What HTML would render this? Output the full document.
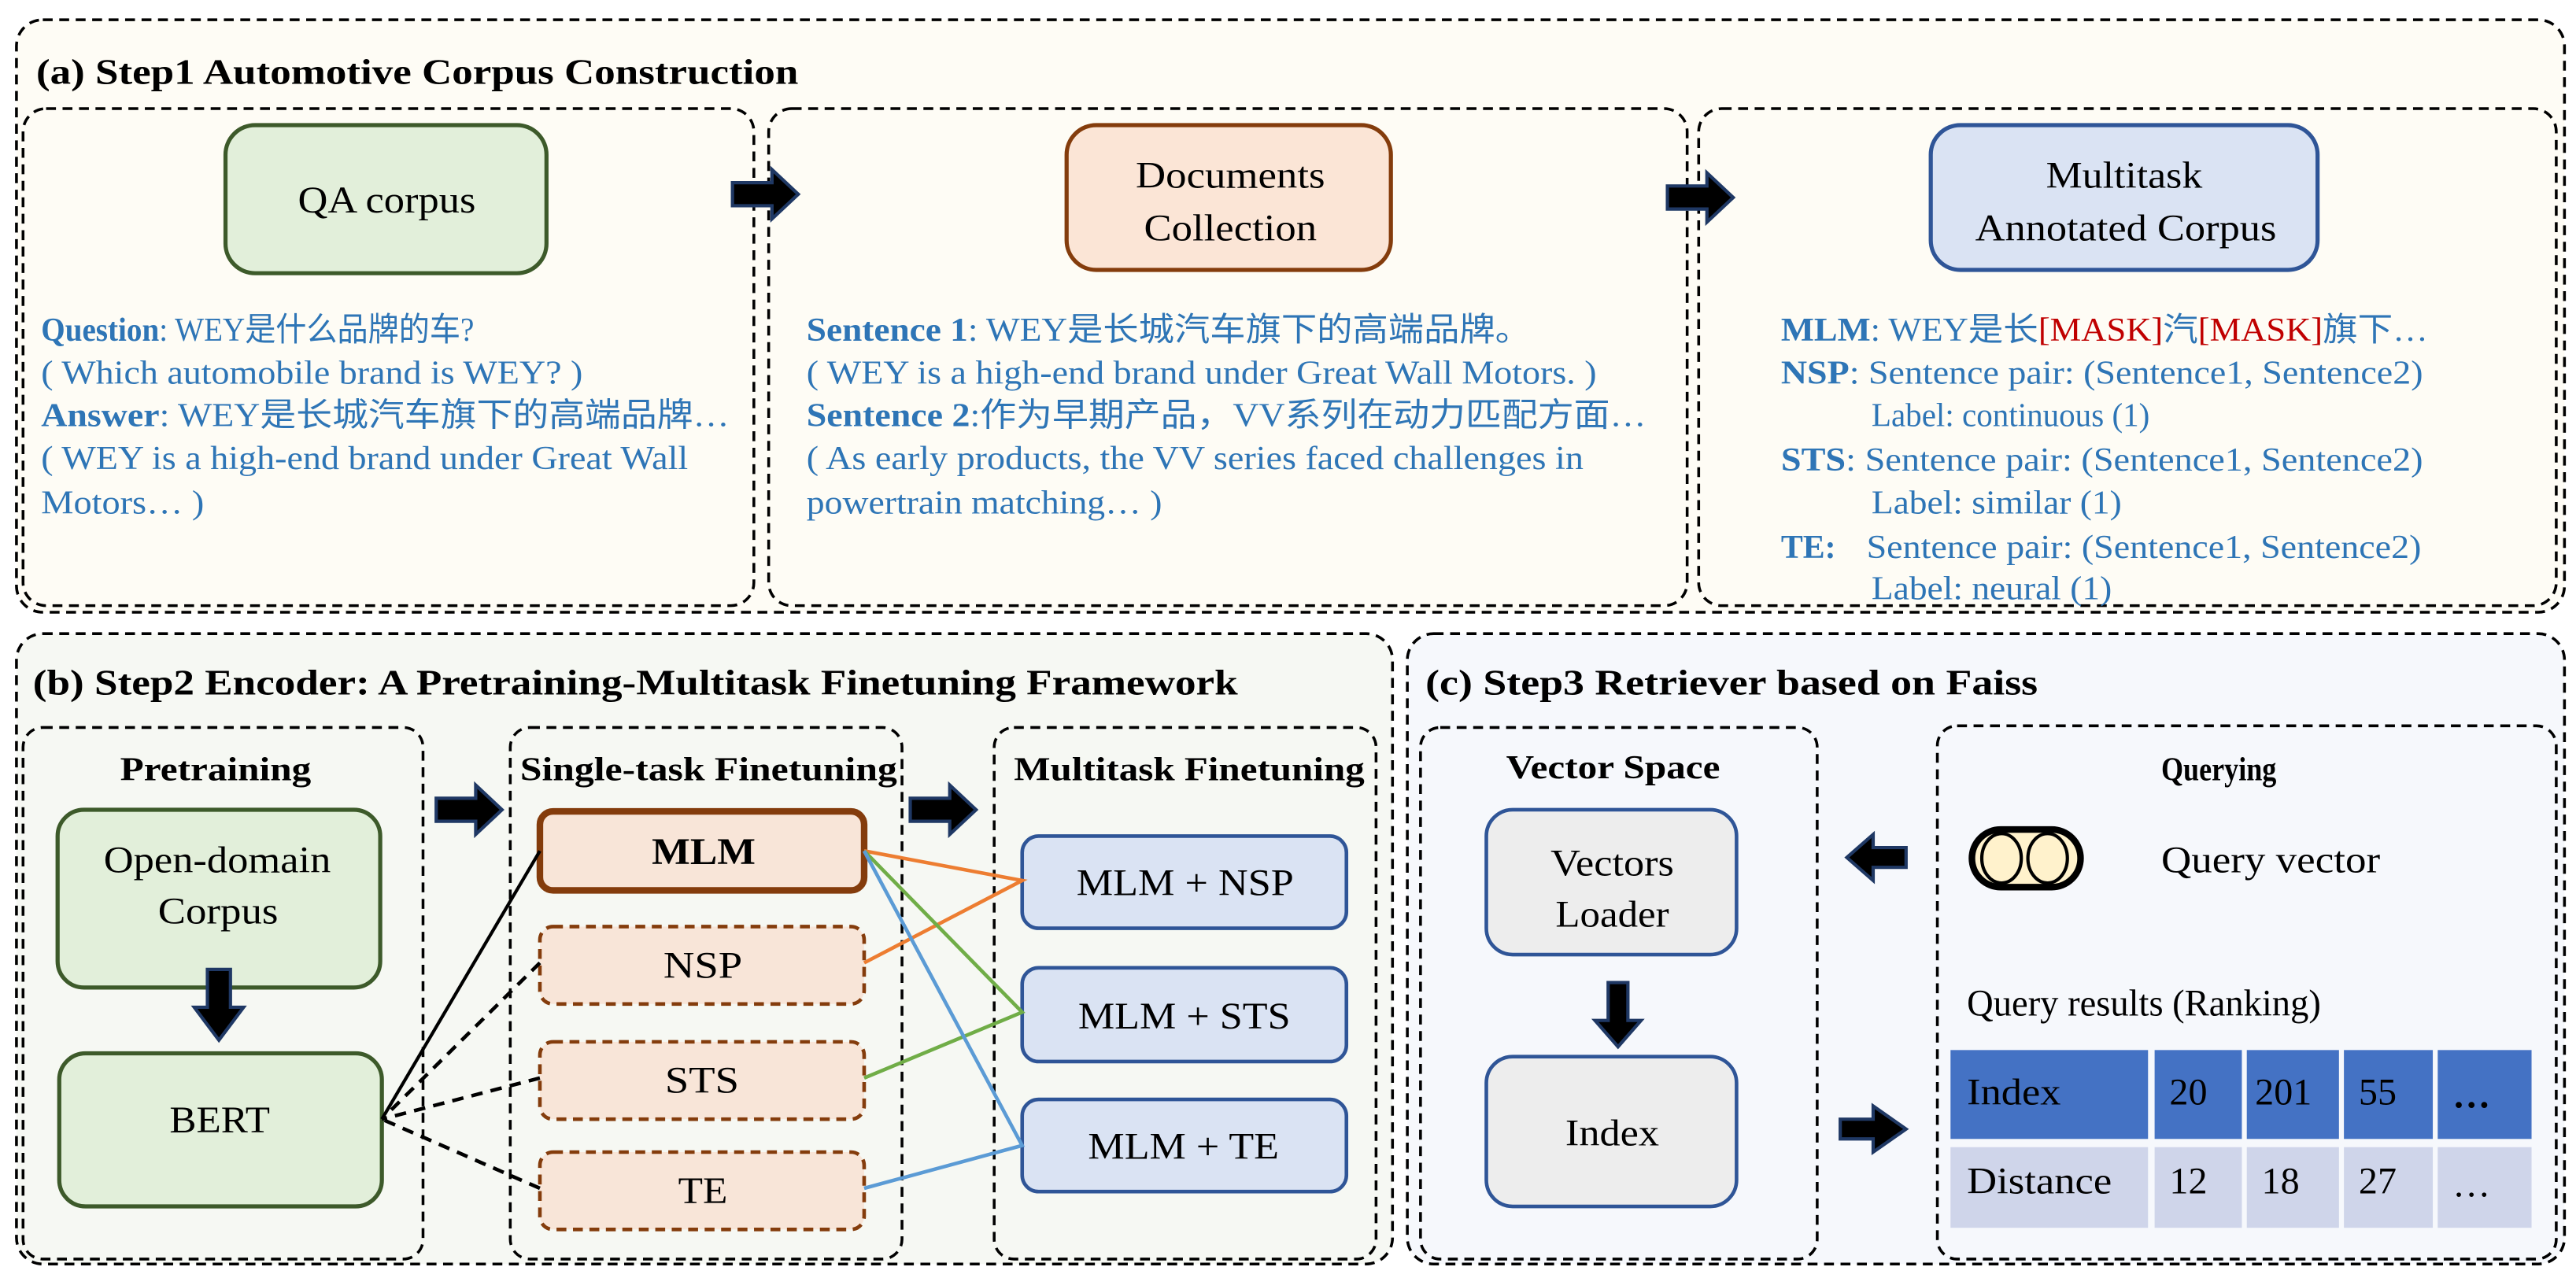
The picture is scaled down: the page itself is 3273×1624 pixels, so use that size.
<!DOCTYPE html>
<html><head><meta charset="utf-8"><style>
html,body{margin:0;padding:0;background:#fff;}
svg{display:block;}
svg text, svg tspan{font-family:"Liberation Serif",serif;}
</style></head><body>
<svg width="3273" height="1624" viewBox="0 0 1565 776.5" preserveAspectRatio="none" xmlns="http://www.w3.org/2000/svg">
<defs>
<g id="ar"><path d="M0,-7 L24,-7 L24,-15 L40,0 L24,15 L24,7 L0,7 Z" fill="#000" stroke="#1f3864" stroke-width="2"/></g>
</defs>
<g fill="none" stroke="#000" stroke-width="1.7" stroke-dasharray="6 4">
<rect x="10" y="12" width="1548" height="360" rx="16" fill="#fefcf5"/>
<rect x="14" y="66" width="444" height="302" rx="14"/>
<rect x="467" y="66" width="558" height="302" rx="14"/>
<rect x="1032" y="66" width="521" height="302" rx="14"/>
<rect x="10" y="385" width="836" height="383" rx="16" fill="#f6f8f3"/>
<rect x="14" y="442" width="243" height="323" rx="12"/>
<rect x="310" y="442" width="238" height="323" rx="12"/>
<rect x="604" y="442" width="232" height="323" rx="12"/>
<rect x="855" y="385" width="703" height="383" rx="16" fill="#f6f8fc"/>
<rect x="863" y="442" width="241" height="323" rx="12"/>
<rect x="1177" y="441" width="376" height="324" rx="12"/>
</g>
<g font-weight="bold" font-size="22" fill="#000">
<text x="22" y="51" textLength="463" lengthAdjust="spacingAndGlyphs">(a) Step1 Automotive Corpus Construction</text>
<text x="20" y="422" textLength="732" lengthAdjust="spacingAndGlyphs">(b) Step2 Encoder: A Pretraining-Multitask Finetuning Framework</text>
<text x="866" y="422" textLength="372" lengthAdjust="spacingAndGlyphs">(c) Step3 Retriever based on Faiss</text>
<g font-size="20">
<text x="73" y="474" textLength="116" lengthAdjust="spacingAndGlyphs">Pretraining</text>
<text x="316" y="474" textLength="229" lengthAdjust="spacingAndGlyphs">Single-task Finetuning</text>
<text x="616" y="474" textLength="213" lengthAdjust="spacingAndGlyphs">Multitask Finetuning</text>
<text x="915" y="473" textLength="130" lengthAdjust="spacingAndGlyphs">Vector Space</text>
<text x="1313" y="474" textLength="70" lengthAdjust="spacingAndGlyphs">Querying</text>
</g>
</g>
<rect x="137" y="76" width="195" height="90" rx="18" fill="#e2efda" stroke="#3d5a2a" stroke-width="2.5"/>
<rect x="648" y="76" width="197" height="88" rx="18" fill="#fbe5d6" stroke="#843c0c" stroke-width="2.5"/>
<rect x="1173" y="76" width="235" height="88" rx="18" fill="#dae3f3" stroke="#2f5597" stroke-width="2.5"/>
<g font-size="23" fill="#000">
<text x="181" y="129" textLength="108" lengthAdjust="spacingAndGlyphs">QA corpus</text>
<text x="690" y="114" textLength="115" lengthAdjust="spacingAndGlyphs">Documents</text>
<text x="695" y="146" textLength="105" lengthAdjust="spacingAndGlyphs">Collection</text>
<text x="1243" y="114" textLength="95" lengthAdjust="spacingAndGlyphs">Multitask</text>
<text x="1200" y="146" textLength="183" lengthAdjust="spacingAndGlyphs">Annotated Corpus</text>
</g>
<use href="#ar" x="445" y="118"/>
<use href="#ar" x="1013" y="120"/>
<g font-size="20" fill="#2e75b6">
<text x="25" y="207" textLength="263" lengthAdjust="spacingAndGlyphs"><tspan font-weight="bold">Question</tspan>: WEY是什么品牌的车?</text>
<text x="25" y="233" textLength="329" lengthAdjust="spacingAndGlyphs">( Which automobile brand is WEY? )</text>
<text x="25" y="259" textLength="418" lengthAdjust="spacingAndGlyphs"><tspan font-weight="bold">Answer</tspan>: WEY是长城汽车旗下的高端品牌…</text>
<text x="25" y="285" textLength="393" lengthAdjust="spacingAndGlyphs">( WEY is a high-end brand under Great Wall</text>
<text x="25" y="312" textLength="99" lengthAdjust="spacingAndGlyphs">Motors… )</text>
<text x="490" y="207" textLength="440" lengthAdjust="spacingAndGlyphs"><tspan font-weight="bold">Sentence 1</tspan>: WEY是长城汽车旗下的高端品牌。</text>
<text x="490" y="233" textLength="480" lengthAdjust="spacingAndGlyphs">( WEY is a high-end brand under Great Wall Motors. )</text>
<text x="490" y="259" textLength="510" lengthAdjust="spacingAndGlyphs"><tspan font-weight="bold">Sentence 2</tspan>:作为早期产品，VV系列在动力匹配方面…</text>
<text x="490" y="285" textLength="472" lengthAdjust="spacingAndGlyphs">( As early products, the VV series faced challenges in</text>
<text x="490" y="312" textLength="216" lengthAdjust="spacingAndGlyphs">powertrain matching… )</text>
<text x="1082" y="207" textLength="393" lengthAdjust="spacingAndGlyphs"><tspan font-weight="bold">MLM</tspan>: WEY是长<tspan fill="#c00000">[MASK]</tspan>汽<tspan fill="#c00000">[MASK]</tspan>旗下…</text>
<text x="1082" y="233" textLength="390" lengthAdjust="spacingAndGlyphs"><tspan font-weight="bold">NSP</tspan>: Sentence pair: (Sentence1, Sentence2)</text>
<text x="1137" y="259" textLength="169" lengthAdjust="spacingAndGlyphs">Label: continuous (1)</text>
<text x="1082" y="286" textLength="390" lengthAdjust="spacingAndGlyphs"><tspan font-weight="bold">STS</tspan>: Sentence pair: (Sentence1, Sentence2)</text>
<text x="1137" y="312" textLength="152" lengthAdjust="spacingAndGlyphs">Label: similar (1)</text>
<text x="1082" y="339" font-weight="bold">TE:</text>
<text x="1134" y="339" textLength="337" lengthAdjust="spacingAndGlyphs">Sentence pair: (Sentence1, Sentence2)</text>
<text x="1137" y="364" textLength="146" lengthAdjust="spacingAndGlyphs">Label: neural (1)</text>
</g>
<rect x="35" y="492" width="196" height="108" rx="16" fill="#e2efda" stroke="#3d5a2a" stroke-width="2.5"/>
<rect x="36" y="640" width="196" height="93" rx="16" fill="#e2efda" stroke="#3d5a2a" stroke-width="2.5"/>
<path d="M126,589 L140,589 L140,612 L148,612 L133,632 L118,612 L126,612 Z" fill="#000" stroke="#1f3864" stroke-width="2"/>
<rect x="328" y="493" width="197" height="48" rx="8" fill="#f8e5d8" stroke="#843c0c" stroke-width="4"/>
<g fill="#f8e5d8" stroke="#843c0c" stroke-width="2.2" stroke-dasharray="6 4">
<rect x="328" y="563" width="197" height="47" rx="8"/>
<rect x="328" y="633" width="197" height="47" rx="8"/>
<rect x="328" y="700" width="197" height="47" rx="8"/>
</g>
<g fill="#dae3f3" stroke="#2f5597" stroke-width="2.2">
<rect x="621" y="508" width="197" height="56" rx="10"/>
<rect x="621" y="588" width="197" height="57" rx="10"/>
<rect x="621" y="668" width="197" height="56" rx="10"/>
</g>
<use href="#ar" x="265" y="492"/>
<use href="#ar" x="553" y="492"/>
<line x1="328" y1="517" x2="232" y2="680" stroke="#000" stroke-width="2"/>
<g stroke="#000" stroke-width="2.2" stroke-dasharray="7 5">
<line x1="328" y1="585" x2="232" y2="680"/>
<line x1="328" y1="655" x2="232" y2="680"/>
<line x1="328" y1="722" x2="232" y2="680"/>
</g>
<g stroke-width="2.2" fill="none">
<polyline points="525,517 621,535 525,585" stroke="#ed7d31"/>
<polyline points="525,517 621,615 525,655" stroke="#70ad47"/>
<polyline points="525,517 621,696 525,722" stroke="#5b9bd5"/>
</g>
<g font-size="23" fill="#000">
<text x="63" y="530" textLength="138" lengthAdjust="spacingAndGlyphs">Open-domain</text>
<text x="96" y="561" textLength="73" lengthAdjust="spacingAndGlyphs">Corpus</text>
<text x="103" y="688" textLength="61" lengthAdjust="spacingAndGlyphs">BERT</text>
<text x="396" y="525" font-weight="bold" textLength="63" lengthAdjust="spacingAndGlyphs">MLM</text>
<text x="403" y="594" textLength="48" lengthAdjust="spacingAndGlyphs">NSP</text>
<text x="404" y="664" textLength="45" lengthAdjust="spacingAndGlyphs">STS</text>
<text x="412" y="731" textLength="30" lengthAdjust="spacingAndGlyphs">TE</text>
<text x="654" y="544" textLength="132" lengthAdjust="spacingAndGlyphs">MLM + NSP</text>
<text x="655" y="625" textLength="129" lengthAdjust="spacingAndGlyphs">MLM + STS</text>
<text x="661" y="704" textLength="116" lengthAdjust="spacingAndGlyphs">MLM + TE</text>
</g>
<rect x="903" y="492" width="152" height="88" rx="16" fill="#ededed" stroke="#2f5597" stroke-width="2.2"/>
<rect x="903" y="642" width="152" height="91" rx="16" fill="#ededed" stroke="#2f5597" stroke-width="2.2"/>
<path d="M977,597 L989,597 L989,620 L997,620 L983,636 L969,620 L977,620 Z" fill="#000" stroke="#1f3864" stroke-width="2"/>
<path d="M1158,515 L1138,515 L1138,507 L1122,521 L1138,535 L1138,527 L1158,527 Z" fill="#000" stroke="#1f3864" stroke-width="2"/>
<path d="M1118,680 L1138,680 L1138,672 L1158,686 L1138,700 L1138,692 L1118,692 Z" fill="#000" stroke="#1f3864" stroke-width="2"/>
<rect x="1198" y="504" width="66" height="35" rx="17.5" fill="#fff2cc" stroke="#000" stroke-width="4"/>
<ellipse cx="1216" cy="521.5" rx="12" ry="15" fill="#fff2cc" stroke="#000" stroke-width="2"/>
<ellipse cx="1244" cy="521.5" rx="12" ry="15" fill="#fff2cc" stroke="#000" stroke-width="2"/>
<g fill="#4472c4">
<rect x="1185" y="638" width="120" height="54"/>
<rect x="1309" y="638" width="53" height="54"/>
<rect x="1365" y="638" width="56" height="54"/>
<rect x="1424" y="638" width="54" height="54"/>
<rect x="1481" y="638" width="57" height="54"/>
</g>
<g fill="#cfd5ea">
<rect x="1185" y="697" width="120" height="49"/>
<rect x="1309" y="697" width="53" height="49"/>
<rect x="1365" y="697" width="56" height="49"/>
<rect x="1424" y="697" width="54" height="49"/>
<rect x="1481" y="697" width="57" height="49"/>
</g>
<g font-size="23" fill="#000">
<text x="942" y="532" textLength="75" lengthAdjust="spacingAndGlyphs">Vectors</text>
<text x="945" y="563" textLength="69" lengthAdjust="spacingAndGlyphs">Loader</text>
<text x="951" y="696" textLength="57" lengthAdjust="spacingAndGlyphs">Index</text>
<text x="1313" y="530" textLength="133" lengthAdjust="spacingAndGlyphs">Query vector</text>
<text x="1195" y="617" textLength="215" lengthAdjust="spacingAndGlyphs">Query results (Ranking)</text>
<text x="1195" y="671" textLength="57" lengthAdjust="spacingAndGlyphs">Index</text>
<text x="1318" y="671">20</text>
<text x="1370" y="671">201</text>
<text x="1433" y="671">55</text>
<text x="1490" y="673" font-weight="bold">…</text>
<text x="1195" y="725" textLength="88" lengthAdjust="spacingAndGlyphs">Distance</text>
<text x="1318" y="725">12</text>
<text x="1374" y="725">18</text>
<text x="1433" y="725">27</text>
<text x="1490" y="727">…</text>
</g>
</svg>
</body></html>
